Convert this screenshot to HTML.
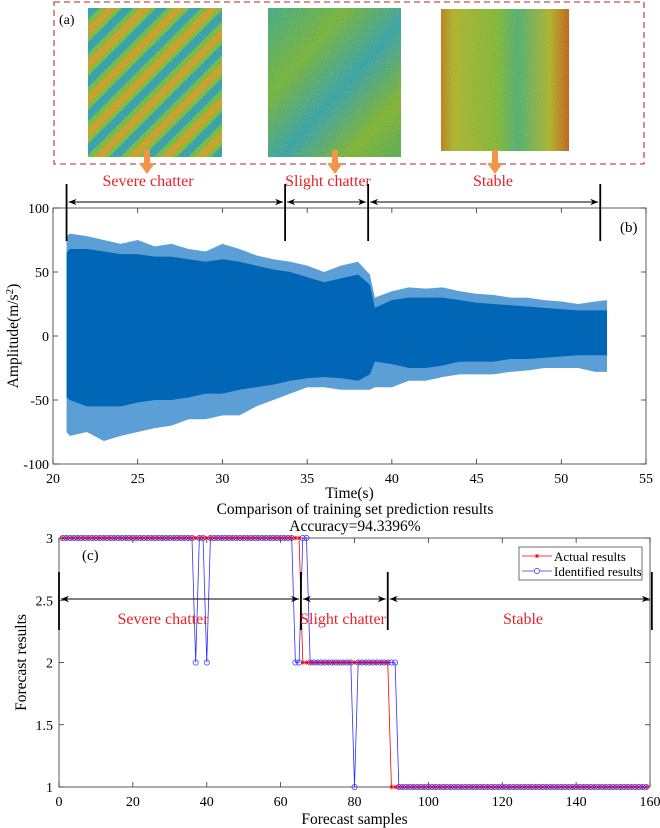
<!DOCTYPE html>
<html><head><meta charset="utf-8"><style>
body{margin:0;background:#fff;}
svg{display:block;font-family:"Liberation Serif",serif;}
</style></head><body>
<svg width="660" height="828" viewBox="0 0 660 828" xmlns="http://www.w3.org/2000/svg">
<defs>
<filter id="noise" x="0" y="0" width="100%" height="100%">
<feTurbulence type="fractalNoise" baseFrequency="0.8" numOctaves="2" seed="3"/>
<feColorMatrix type="matrix" values="0 0 0 0 0.85  0 0 0 0 0.8  0 0 0 0 0.1  0 0 0 0.7 -0.15"/>
<feComposite in2="SourceGraphic" operator="in"/>
</filter>
<pattern id="stripes" patternUnits="userSpaceOnUse" width="200" height="24" patternTransform="rotate(-45)">
<rect width="200" height="24" fill="#2a9cb4"/>
<rect y="4" width="200" height="5" fill="#6db84a"/>
<rect y="9" width="200" height="7" fill="#c99a2c"/>
<rect y="16" width="200" height="4" fill="#7ab840"/>
</pattern>
<linearGradient id="g2" x1="0" y1="0" x2="1" y2="1">
<stop offset="0" stop-color="#3aa88c"/><stop offset="0.3" stop-color="#6fb040"/><stop offset="0.55" stop-color="#2f9fae"/><stop offset="0.8" stop-color="#7ab034"/><stop offset="1" stop-color="#50a860"/>
</linearGradient>
<linearGradient id="g3" x1="0" y1="0" x2="1" y2="0">
<stop offset="0" stop-color="#b87c22"/><stop offset="0.1" stop-color="#a8b030"/><stop offset="0.45" stop-color="#78b43c"/><stop offset="0.6" stop-color="#4aac78"/><stop offset="0.85" stop-color="#a8b030"/><stop offset="1" stop-color="#c05a1c"/>
</linearGradient>
<marker id="ah" viewBox="0 0 10 10" refX="10" refY="5" markerWidth="8" markerHeight="8" orient="auto-start-reverse"><path d="M0,1 L10,5 L0,9 L3,5 Z" fill="#000"/></marker>
</defs>

<g>
<rect x="54" y="2" width="590" height="162" fill="none" stroke="#c0504d" stroke-width="1.3" stroke-dasharray="6,4"/>
<text x="59" y="24" font-size="14">(a)</text>
<g>
<rect x="88" y="8" width="134" height="149" fill="url(#stripes)"/>
<rect x="88" y="8" width="134" height="149" fill="#fff" filter="url(#noise)" opacity="0.45"/>
</g>
<g>
<rect x="268" y="8" width="133" height="149" fill="url(#g2)"/>
<rect x="268" y="8" width="133" height="149" fill="#fff" filter="url(#noise)" opacity="0.45"/>
</g>
<g>
<rect x="441" y="9" width="128" height="142" fill="url(#g3)"/>
<rect x="441" y="9" width="128" height="142" fill="#fff" filter="url(#noise)" opacity="0.45"/>
</g>
<g fill="#f0954a">
<rect x="144" y="150" width="6" height="14"/><path d="M139,163 L155,163 L147,174 Z"/>
<rect x="332" y="150" width="6" height="14"/><path d="M327,163 L343,163 L335,174 Z"/>
<rect x="492" y="150" width="6" height="14"/><path d="M487,163 L503,163 L495,174 Z"/>
</g>
<g fill="#e8202a" font-size="16" text-anchor="middle">
<text x="148" y="186">Severe chatter</text>
<text x="328" y="186">Slight chatter</text>
<text x="493" y="186">Stable</text>
</g>
</g>

<g id="chartB"></g>
<g id="chartC"></g>
</svg>
<script>
// ---------- Panel b data ----------
const tPts   = [20.8,21,22,23,24,25,26,27,28,29,30,31,32,33,34,35,36,37,38,38.7,39,40,41,42,43,44,45,46,47,48,49,50,51,52,52.7];
const upLight= [78,80,78,75,72,75,70,72,68,66,72,68,63,60,58,55,50,55,58,48,30,35,38,37,38,35,33,32,30,30,28,27,25,27,28];
const upDark = [65,68,68,66,64,64,62,62,60,58,60,58,55,52,50,46,42,45,48,40,22,28,30,30,30,28,26,25,24,23,22,21,20,20,20];
const loDark = [-48,-50,-55,-55,-55,-52,-50,-50,-48,-45,-45,-42,-40,-38,-35,-33,-32,-33,-35,-30,-20,-22,-25,-25,-23,-20,-20,-20,-18,-18,-17,-16,-15,-15,-15];
const loLight= [-75,-78,-75,-82,-78,-75,-72,-70,-65,-65,-62,-62,-55,-50,-45,-40,-40,-42,-42,-42,-40,-40,-35,-35,-32,-30,-30,-30,-28,-27,-25,-25,-25,-28,-28];
const bXTicks = [20,25,30,35,40,45,50,55];
const bYTicks = [100,50,0,-50,-100];
const bBrackets = [20.8,33.7,38.6,52.3];

// ---------- Panel c data ----------
const cXTicks = [0,20,40,60,80,100,120,140,160];
const cYTicks = [3,2.5,2,1.5,1];
const actualSegs = [[1,65,3],[66,89,2],[90,159,1]];
const identSegs  = [[1,36,3],[37,37,2],[38,39,3],[40,40,2],[41,63,3],[64,65,2],[66,67,3],[68,79,2],[80,80,1],[81,91,2],[92,159,1]];
const cBrackets = [0,65.5,89,160.5];

const NS="http://www.w3.org/2000/svg";
function mk(tag,attrs,parent){const e=document.createElementNS(NS,tag);for(const k in attrs)e.setAttribute(k,attrs[k]);if(parent)parent.appendChild(e);return e;}
function expand(segs){const a=[];segs.forEach(s=>{for(let i=s[0];i<=s[1];i++)a.push([i,s[2]]);});return a;}

// ---------- Panel b ----------
(function(){
const g=document.getElementById('chartB');
const L=53,R=646,T=208,B=464;
const xs=t=>L+(t-20)/35*(R-L);
const ys=v=>T+(100-v)/200*(B-T);
function band(top,bot,color,name){
 let d='M'+tPts.map((t,i)=>xs(t)+','+ys(top[i])).join(' L');
 for(let i=tPts.length-1;i>=0;i--) d+=' L'+xs(tPts[i])+','+ys(bot[i]);
 const p=mk('path',{d:d+'Z',fill:color},g);
 
 
}
band(upLight,loLight,'#5b9fd6','signal-envelope-light');
band(upDark,loDark,'#0066b5','signal-envelope-dark');
const box=mk('rect',{x:L,y:T,width:R-L,height:B-T,fill:'none',stroke:'#333','stroke-width':0.8},g);


bXTicks.forEach(t=>{
 const x=xs(t);
 mk('line',{x1:x,y1:B,x2:x,y2:B-5,stroke:'#333','stroke-width':0.8},g);
 mk('line',{x1:x,y1:T,x2:x,y2:T+5,stroke:'#333','stroke-width':0.8},g);
 const tx=mk('text',{x:x,y:B+19,'font-size':14,'text-anchor':'middle'},g);tx.textContent=t;
 
 
});
bYTicks.forEach(v=>{
 const y=ys(v);
 mk('line',{x1:L,y1:y,x2:L+5,y2:y,stroke:'#333','stroke-width':0.8},g);
 mk('line',{x1:R,y1:y,x2:R-5,y2:y,stroke:'#333','stroke-width':0.8},g);
 const tx=mk('text',{x:L-4,y:y+5,'font-size':14,'text-anchor':'end'},g);tx.textContent=v;
 
 
});
const xt=mk('text',{x:(L+R)/2,y:498,'font-size':15.5,'text-anchor':'middle'},g);xt.textContent='Time(s)';


const yt=mk('text',{x:0,y:0,'font-size':15.5,'text-anchor':'middle',transform:'translate(18,'+((T+B)/2)+') rotate(-90)'},g);
yt.innerHTML='Amplitude(m/s<tspan dy="-5" font-size="11">2</tspan><tspan dy="5">)</tspan>';


const pl=mk('text',{x:620,y:232,'font-size':15},g);pl.textContent='(b)';


bBrackets.forEach(t=>{const v=mk('line',{x1:xs(t),y1:184,x2:xs(t),y2:241,stroke:'#000','stroke-width':1.8},g);
 
 });
for(let i=0;i<bBrackets.length-1;i++){
 const a=mk('line',{x1:xs(bBrackets[i])+2,y1:202,x2:xs(bBrackets[i+1])-2,y2:202,stroke:'#000','stroke-width':1,'marker-start':'url(#ah)','marker-end':'url(#ah)'},g);
 
 
}
})();

// ---------- Panel c ----------
(function(){
const g=document.getElementById('chartC');
const L=59,R=650,T=538,B=787;
const xs=n=>L+n/160*(R-L);
const ys=v=>B-(v-1)/2*(B-T);
const box=mk('rect',{x:L,y:T,width:R-L,height:B-T,fill:'none',stroke:'#333','stroke-width':0.8},g);


cXTicks.forEach(t=>{
 const x=xs(t);
 mk('line',{x1:x,y1:B,x2:x,y2:B-5,stroke:'#333','stroke-width':0.8},g);
 mk('line',{x1:x,y1:T,x2:x,y2:T+5,stroke:'#333','stroke-width':0.8},g);
 const tx=mk('text',{x:x,y:B+19,'font-size':14,'text-anchor':'middle'},g);tx.textContent=t;
 
 
});
cYTicks.forEach(v=>{
 const y=ys(v);
 mk('line',{x1:L,y1:y,x2:L+5,y2:y,stroke:'#333','stroke-width':0.8},g);
 mk('line',{x1:R,y1:y,x2:R-5,y2:y,stroke:'#333','stroke-width':0.8},g);
 const tx=mk('text',{x:L-6,y:y+5,'font-size':14,'text-anchor':'end'},g);tx.textContent=v;
 
 
});
const t1=mk('text',{x:355,y:514,'font-size':15.5,'text-anchor':'middle'},g);t1.textContent='Comparison of training set prediction results';


const t2=mk('text',{x:355,y:531,'font-size':15.5,'text-anchor':'middle'},g);t2.textContent='Accuracy=94.3396%';


const xt=mk('text',{x:(L+R)/2,y:824,'font-size':15.5,'text-anchor':'middle'},g);xt.textContent='Forecast samples';


const yt=mk('text',{x:0,y:0,'font-size':15.5,'text-anchor':'middle',transform:'translate(26,'+((T+B)/2)+') rotate(-90)'},g);yt.textContent='Forecast results';


const pl=mk('text',{x:82,y:560,'font-size':15},g);pl.textContent='(c)';



const act=expand(actualSegs), idn=expand(identSegs);
const la=mk('polyline',{points:act.map(p=>xs(p[0])+','+ys(p[1])).join(' '),fill:'none',stroke:'#ff0000','stroke-width':0.8},g);


const li=mk('polyline',{points:idn.map(p=>xs(p[0])+','+ys(p[1])).join(' '),fill:'none',stroke:'#3030ff','stroke-width':0.8},g);


act.forEach(p=>{const x=xs(p[0]),y=ys(p[1]);
 const s=mk('path',{d:`M${x-2.2},${y}H${x+2.2}M${x},${y-2.2}V${y+2.2}M${x-1.6},${y-1.6}L${x+1.6},${y+1.6}M${x-1.6},${y+1.6}L${x+1.6},${y-1.6}`,stroke:'#ff0000','stroke-width':0.7},g);
 
 });
idn.forEach(p=>{const c=mk('circle',{cx:xs(p[0]),cy:ys(p[1]),r:2.6,fill:'none',stroke:'#3030ff','stroke-width':0.7},g);
 
 });

cBrackets.forEach(t=>{const v=mk('line',{x1:Math.min(xs(t),654),y1:572,x2:Math.min(xs(t),654),y2:630,stroke:'#000','stroke-width':1.8},g);
 
 });
for(let i=0;i<cBrackets.length-1;i++){
 const a=mk('line',{x1:Math.min(xs(cBrackets[i]),654)+2,y1:599,x2:Math.min(xs(cBrackets[i+1]),654)-2,y2:599,stroke:'#000','stroke-width':1,'marker-start':'url(#ah)','marker-end':'url(#ah)'},g);
 
 
}
[['Severe chatter',163,'label-severe-c'],['Slight chatter',343,'label-slight-c'],['Stable',523,'label-stable-c']].forEach(l=>{
 const tx=mk('text',{x:l[1],y:624,'font-size':16,fill:'#e8202a','text-anchor':'middle'},g);tx.textContent=l[0];
 
 
});
const lg=mk('g',{},g);


mk('rect',{x:519,y:547,width:123,height:33,fill:'#fff',stroke:'#333','stroke-width':0.7},lg);
mk('line',{x1:522,y1:556,x2:552,y2:556,stroke:'#ff0000','stroke-width':0.8},lg);
mk('path',{d:'M535,556H539M537,554V558M535.5,554.5L538.5,557.5M535.5,557.5L538.5,554.5',stroke:'#ff0000','stroke-width':0.7},lg);
mk('line',{x1:522,y1:571,x2:552,y2:571,stroke:'#3030ff','stroke-width':0.8},lg);
mk('circle',{cx:537,cy:571,r:2.6,fill:'#fff',stroke:'#3030ff','stroke-width':0.7},lg);
const e1=mk('text',{x:554,y:561,'font-size':13},lg);e1.textContent='Actual results';


const e2=mk('text',{x:554,y:576,'font-size':13},lg);e2.textContent='Identified results';


})();
</script>
</body></html>
